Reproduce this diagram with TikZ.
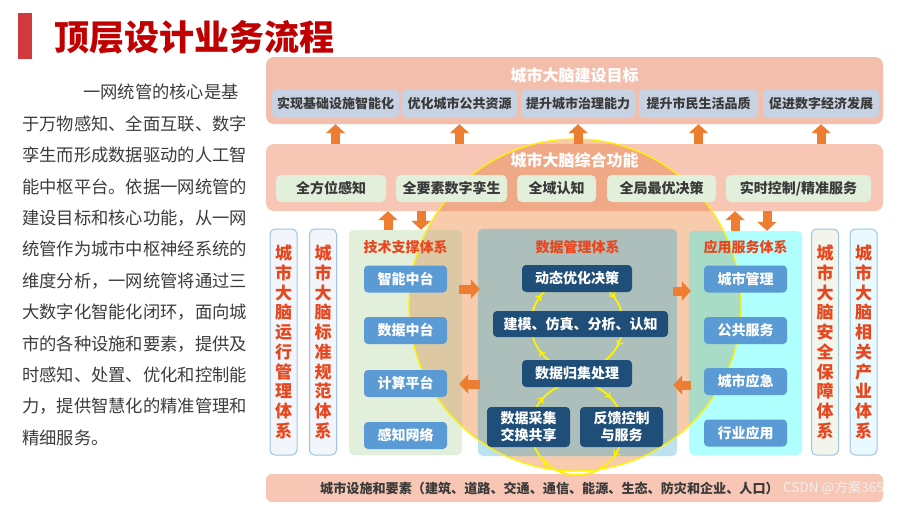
\documentclass[tikz,border=0pt]{standalone}
\usepackage{fontspec}
\setmainfont{Noto Sans CJK SC}
\usetikzlibrary{arrows.meta,decorations.markings,calc}
\definecolor{titlered}{HTML}{C00000}
\definecolor{barred}{HTML}{D03A3F}
\definecolor{paragray}{HTML}{3C3C3C}
\definecolor{band1}{HTML}{F3BEAC}
\definecolor{band2}{HTML}{F8C6B4}
\definecolor{band2in}{HTML}{F0A987}
\definecolor{goalbox}{HTML}{C7D3E3}
\definecolor{funcbox}{HTML}{E2EFDA}
\definecolor{txtgray}{HTML}{3A3A3A}
\definecolor{colborder}{HTML}{9DC3E6}
\definecolor{colred}{HTML}{E8461E}
\definecolor{techbg}{HTML}{E2EFDA}
\definecolor{techin}{HTML}{DCC9A3}
\definecolor{databg}{HTML}{BDE3F3}
\definecolor{datain}{HTML}{ADBFBA}
\definecolor{appbg}{HTML}{AFFFFF}
\definecolor{appin}{HTML}{A8DCC6}
\definecolor{circfill}{HTML}{F8CBAD}
\definecolor{circline}{HTML}{FFF200}
\definecolor{bluebox}{HTML}{5B9BD5}
\definecolor{navy}{HTML}{1F4E79}
\definecolor{arrowor}{HTML}{ED7D31}
\definecolor{col1bg}{HTML}{F2F6FB}
\definecolor{col3bg}{HTML}{F1F5EC}
\definecolor{col4bg}{HTML}{E9FAFE}
\begin{document}
\begin{tikzpicture}[x=1pt,y=-1pt,
  bigbox/.style={rounded corners=8pt, inner sep=0pt},
  bandtitle/.style={text=white, font=\fontsize{16}{18}\selectfont\bfseries, inner sep=0pt},
  gbox/.style={fill=goalbox, rounded corners=5pt, text=txtgray, font=\fontsize{13}{15}\selectfont\bfseries, minimum height=29pt, inner sep=0pt},
  funcbx/.style={fill=funcbox, rounded corners=5pt, text=txtgray, font=\fontsize{14}{16}\selectfont\bfseries, minimum height=27pt, inner sep=0pt},
  colbox/.style={draw=colborder, line width=1pt, rounded corners=5pt, fill=#1, minimum width=27pt, minimum height=226pt, inner sep=0pt},
  coltext/.style={text=colred, font=\fontsize{17}{19.7}\selectfont\bfseries, align=center, inner sep=0pt},
  systitle/.style={text=colred, font=\fontsize{14}{16}\selectfont\bfseries, inner sep=0pt},
  tbox/.style={fill=bluebox, rounded corners=4pt, text=white, font=\fontsize{14}{16}\selectfont\bfseries, minimum width=83pt, minimum height=27pt, inner sep=0pt},
  dbox/.style={fill=navy, rounded corners=4pt, text=white, font=\fontsize{14}{17}\selectfont\bfseries, align=center, inner sep=0pt},
  barrow/.style={draw=arrowor, line width=9pt, -{Triangle[width=19pt,length=9pt]}},
  loopline/.style={draw=circline, line width=1.8pt},
  ahead/.style={circline, line width=1.2pt},
]
\path[use as bounding box] (0,0) rectangle (900,506);
\fill[white] (0,0) rectangle (900,506);

% ---- title
\fill[barred] (18,13) rectangle (32,59);
\node[font=\fontsize{35}{40}\selectfont\bfseries, text=titlered, anchor=west, inner sep=0pt] (title) at (54,37) {顶层设计业务流程};

% ---- paragraph
\node[anchor=north west, inner sep=0pt, align=left, font=\fontsize{17.3}{31.4}\selectfont, text=paragray] (para) at (22,84)
{\hspace{61pt}一网统管的核心是基\\
于万物感知、全面互联、数字\\
孪生而形成数据驱动的人工智\\
能中枢平台。依据一网统管的\\
建设目标和核心功能，从一网\\
统管作为城市中枢神经系统的\\
维度分析，一网统管将通过三\\
大数字化智能化闭环，面向城\\
市的各种设施和要素，提供及\\
时感知、处置、优化和控制能\\
力，提供智慧化的精准管理和\\
精细服务。};

% ---- big circle (background)
\coordinate (cc) at (575,305);
\fill[circfill] (cc) circle[radius=166];

% ---- big boxes
\node[bigbox, fill=band1, minimum width=617pt, minimum height=67pt] (tb) at (574.5,90.5) {};
\node[bigbox, fill=band2, minimum width=617pt, minimum height=67pt] (fb) at (574.5,177.5) {};
\node[bigbox, rounded corners=5pt, fill=techbg, minimum width=113pt, minimum height=225pt] (tech) at (405.5,342.5) {};
\node[bigbox, rounded corners=5pt, fill=databg, minimum width=199pt, minimum height=227pt] (data) at (577.5,342.5) {};
\node[bigbox, rounded corners=5pt, fill=appbg, minimum width=113pt, minimum height=224pt] (app) at (745.5,343) {};
\node[bigbox, rounded corners=6pt, fill=band2, minimum width=617pt, minimum height=28pt] (bb) at (574.5,488) {};

% ---- colour of the boxes inside the circle
\begin{scope}
\clip (cc) circle[radius=166];
\fill[band2in, rounded corners=8pt] (fb.north west) rectangle (fb.south east);
\fill[techin, rounded corners=5pt] (tech.north west) rectangle (tech.south east);
\fill[datain, rounded corners=5pt] (data.north west) rectangle (data.south east);
\fill[appin, rounded corners=5pt] (app.north west) rectangle (app.south east);
\end{scope}
\draw[circline, line width=1.3pt] (cc) circle[radius=166];

% ---- side columns
\node[colbox=col1bg] (c1) at (283.5,342) {};
\node[colbox=col1bg] (c2) at (323,342) {};
\node[colbox=col3bg] (c3) at (825,342) {};
\node[colbox=col4bg] (c4) at (863.5,342) {};
\node[coltext] at (c1.center) {城\\市\\大\\脑\\运\\行\\管\\理\\体\\系};
\node[coltext] at (c2.center) {城\\市\\大\\脑\\标\\准\\规\\范\\体\\系};
\node[coltext] at (c3.center) {城\\市\\大\\脑\\安\\全\\保\\障\\体\\系};
\node[coltext] at (c4.center) {城\\市\\大\\脑\\相\\关\\产\\业\\体\\系};

% ---- top band
\node[bandtitle] (tbt) at (574.5,75) {城市大脑建设目标};
\node[gbox, minimum width=127pt] (g1) at (335.5,103.5) {实现基础设施智能化};
\node[gbox, minimum width=115pt] (g2) at (459.5,103.5) {优化城市公共资源};
\node[gbox, minimum width=114pt] (g3) at (578,103.5) {提升城市治理能力};
\node[gbox, minimum width=119pt] (g4) at (698.5,103.5) {提升市民生活品质};
\node[gbox, minimum width=116pt] (g5) at (821,103.5) {促进数字经济发展};

% ---- function band
\node[bandtitle] (fbt) at (574.5,160) {城市大脑综合功能};
\node[funcbx, minimum width=110pt] (f1) at (331,188.5) {全方位感知};
\node[funcbx, minimum width=111pt] (f2) at (451.5,188.5) {全要素数字孪生};
\node[funcbx, minimum width=79pt] (f3) at (556.5,188.5) {全域认知};
\node[funcbx, minimum width=109pt] (f4) at (661.5,188.5) {全局最优决策};
\node[funcbx, minimum width=145pt] (f5) at (798.5,188.5) {实时控制/精准服务};

% ---- technology support
\node[systitle] (techt) at (405.5,247) {技术支撑体系};
\node[tbox] (t1) at (405.5,279) {智能中台};
\node[tbox] (t2) at (405.5,330.5) {数据中台};
\node[tbox] (t3) at (405.5,383.5) {计算平台};
\node[tbox] (t4) at (405.5,435.5) {感知网络};

% ---- application services
\node[systitle] (appt) at (745.5,247) {应用服务体系};
\node[tbox] (a1) at (745.5,279) {城市管理};
\node[tbox] (a2) at (745.5,330.5) {公共服务};
\node[tbox] (a3) at (745.5,381.5) {城市应急};
\node[tbox] (a4) at (745.5,433) {行业应用};

% ---- data management loops
\node[systitle] (datat) at (577.5,247) {数据管理体系};
\draw[loopline, postaction={decorate}, decoration={markings,
   mark=at position 0.078 with {\arrow[ahead]{Straight Barb[length=4pt,width=7pt]}},
   mark=at position 0.40 with {\arrow[ahead]{Straight Barb[length=4pt,width=7pt]}},
   mark=at position 0.608 with {\arrow[ahead]{Straight Barb[length=4pt,width=7pt]}},
   mark=at position 0.903 with {\arrow[ahead]{Straight Barb[length=4pt,width=7pt]}}}]
   (623,324) arc[start angle=0, end angle=360, radius=46];
\draw[loopline, postaction={decorate}, decoration={markings,
   mark=at position 0.10 with {\arrow[ahead]{Straight Barb[length=4pt,width=7pt]}},
   mark=at position 0.38 with {\arrow[ahead]{Straight Barb[length=4pt,width=7pt]}},
   mark=at position 0.62 with {\arrow[ahead]{Straight Barb[length=4pt,width=7pt]}},
   mark=at position 0.88 with {\arrow[ahead]{Straight Barb[length=4pt,width=7pt]}}}]
   (623,429) arc[start angle=0, end angle=360, radius=46];
\node[dbox, minimum width=110pt, minimum height=27pt] (d1) at (577,278.5) {动态优化决策};
\node[dbox, minimum width=175pt, minimum height=26pt] (d2) at (580.5,324) {建模、仿真、分析、认知};
\node[dbox, minimum width=110pt, minimum height=27pt] (d3) at (577,373.5) {数据归集处理};
\node[dbox, minimum width=83pt, minimum height=40pt] (d4) at (528.5,427) {数据采集\\交换共享};
\node[dbox, minimum width=83pt, minimum height=40pt] (d5) at (621.5,427) {反馈控制\\与服务};

% ---- bottom band
\node[anchor=west, inner sep=0pt, text=txtgray, font=\fontsize{13.1}{16}\selectfont\bfseries] (bbt) at (320,489) {城市设施和要素（建筑、道路、交通、通信、能源、生态、防灾和企业、人口）};
\node[anchor=east, inner sep=0pt, text=white!88!gray, font=\fontsize{13.5}{16}\selectfont] (wm) at (884,488) {CSDN @方案365};

% ---- block arrows
\foreach \g in {g1,g2,g3,g4,g5}{
  \draw[barrow] (\g.south |- fb.north) -- (\g.south |- tb.south);
}
\coordinate (u1) at (388,0);
\coordinate (u2) at (421,0);
\coordinate (u3) at (735,0);
\coordinate (u4) at (767,0);
\draw[barrow] (u1 |- tech.north) -- (u1 |- fb.south);
\draw[barrow] (u2 |- fb.south) -- (u2 |- tech.north);
\draw[barrow] (u3 |- app.north) -- (u3 |- fb.south);
\draw[barrow] (u4 |- fb.south) -- (u4 |- app.north);
\coordinate (r1) at (0,289);
\coordinate (r2) at (0,384);
\coordinate (r3) at (0,291);
\coordinate (r4) at (0,385);
\draw[barrow] ([xshift=-3pt]tech.east |- r1) -- ([xshift=2pt]data.west |- r1);
\draw[barrow] ([xshift=2pt]data.west |- r2) -- ([xshift=-3pt]tech.east |- r2);
\draw[barrow] ([xshift=-4pt]data.east |- r3) -- ([xshift=2pt]app.west |- r3);
\draw[barrow] ([xshift=2pt]app.west |- r4) -- ([xshift=-4pt]data.east |- r4);
\end{tikzpicture}
\end{document}
